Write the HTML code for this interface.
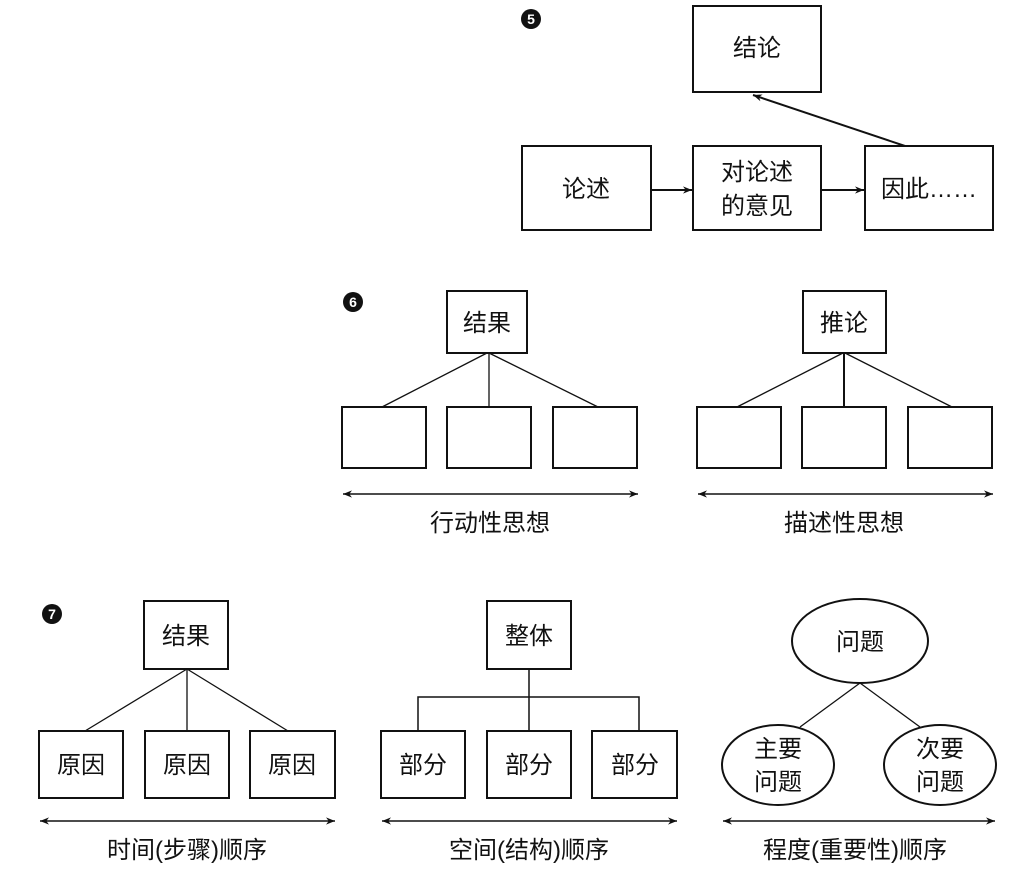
<!DOCTYPE html>
<html><head><meta charset="utf-8"><style>
html,body{margin:0;padding:0;background:#fff}
svg text{font-family:"Liberation Sans","Noto Sans CJK SC",sans-serif;fill:#111}
</style></head><body>
<svg width="1018" height="868" viewBox="0 0 1018 868" xmlns="http://www.w3.org/2000/svg">
<defs>
<marker id="a" viewBox="0 0 10 10" refX="10" refY="5" markerWidth="9" markerHeight="9" orient="auto-start-reverse" markerUnits="userSpaceOnUse"><path d="M0,1 L10,5 L0,9 L3,5 z" fill="#111"/></marker>
</defs>
<g fill="none" stroke="#111" stroke-width="2">
<!-- 5 -->
<rect x="693" y="6" width="128" height="86"/>
<rect x="522" y="146" width="129" height="84"/>
<rect x="693" y="146" width="128" height="84"/>
<rect x="865" y="146" width="128" height="84"/>
<line x1="651" y1="190" x2="692" y2="190" marker-end="url(#a)"/>
<line x1="821" y1="190" x2="864" y2="190" marker-end="url(#a)"/>
<line x1="905" y1="146" x2="753" y2="95" marker-end="url(#a)"/>
<!-- 6 -->
<rect x="447" y="291" width="80" height="62"/>
<rect x="342" y="407" width="84" height="61"/>
<rect x="447" y="407" width="84" height="61"/>
<rect x="553" y="407" width="84" height="61"/>
<line x1="487" y1="353" x2="382" y2="407" stroke-width="1.3"/>
<line x1="489" y1="353" x2="489" y2="407" stroke-width="1.3"/>
<line x1="489" y1="353" x2="598" y2="407" stroke-width="1.3"/>
<line x1="343" y1="494" x2="638" y2="494" marker-start="url(#a)" marker-end="url(#a)" stroke-width="1.5"/>
<rect x="803" y="291" width="83" height="62"/>
<rect x="697" y="407" width="84" height="61"/>
<rect x="802" y="407" width="84" height="61"/>
<rect x="908" y="407" width="84" height="61"/>
<line x1="843" y1="353" x2="737" y2="407" stroke-width="1.3"/>
<line x1="844" y1="353" x2="844" y2="407"/>
<line x1="845" y1="353" x2="952" y2="407" stroke-width="1.3"/>
<line x1="698" y1="494" x2="993" y2="494" marker-start="url(#a)" marker-end="url(#a)" stroke-width="1.5"/>
<!-- 7 -->
<rect x="144" y="601" width="84" height="68"/>
<rect x="39" y="731" width="84" height="67"/>
<rect x="145" y="731" width="84" height="67"/>
<rect x="250" y="731" width="85" height="67"/>
<line x1="187" y1="669" x2="85" y2="731" stroke-width="1.3"/>
<line x1="187" y1="669" x2="187" y2="731" stroke-width="1.3"/>
<line x1="187" y1="669" x2="288" y2="731" stroke-width="1.3"/>
<line x1="40" y1="821" x2="335" y2="821" marker-start="url(#a)" marker-end="url(#a)" stroke-width="1.5"/>
<rect x="487" y="601" width="84" height="68"/>
<rect x="381" y="731" width="84" height="67"/>
<rect x="487" y="731" width="84" height="67"/>
<rect x="592" y="731" width="85" height="67"/>
<path d="M529,669 V697 M418,731 V697 H639 V731 M529,697 V731" stroke-width="1.5"/>
<line x1="382" y1="821" x2="677" y2="821" marker-start="url(#a)" marker-end="url(#a)" stroke-width="1.5"/>
<ellipse cx="860" cy="641" rx="68" ry="42"/>
<ellipse cx="778" cy="765" rx="56" ry="40"/>
<ellipse cx="940" cy="765" rx="56" ry="40"/>
<line x1="860" y1="683" x2="800" y2="727" stroke-width="1.3"/>
<line x1="860" y1="683" x2="920" y2="727" stroke-width="1.3"/>
<line x1="723" y1="821" x2="995" y2="821" marker-start="url(#a)" marker-end="url(#a)" stroke-width="1.5"/>
</g>
<g fill="#111">
<circle cx="531" cy="19" r="10"/><circle cx="353" cy="302" r="10"/><circle cx="52" cy="614" r="10"/>
</g>
<g font-size="14" font-weight="bold" text-anchor="middle" style="fill:#fff">
<text x="531" y="24" style="fill:#fff">5</text><text x="353" y="307" style="fill:#fff">6</text><text x="52" y="619" style="fill:#fff">7</text>
</g>
<g font-size="24" text-anchor="middle">
<text x="757" y="56">结论</text>
<text x="586" y="197">论述</text>
<text x="757" y="180">对论述</text>
<text x="757" y="214">的意见</text>
<text x="929" y="197">因此……</text>
<text x="487" y="331">结果</text>
<text x="844" y="331">推论</text>
<text x="490" y="531">行动性思想</text>
<text x="844" y="531">描述性思想</text>
<text x="186" y="644">结果</text>
<text x="81" y="773">原因</text>
<text x="187" y="773">原因</text>
<text x="292" y="773">原因</text>
<text x="187" y="858">时间(步骤)顺序</text>
<text x="529" y="644">整体</text>
<text x="423" y="773">部分</text>
<text x="529" y="773">部分</text>
<text x="635" y="773">部分</text>
<text x="529" y="858">空间(结构)顺序</text>
<text x="860" y="650">问题</text>
<text x="778" y="757">主要</text>
<text x="778" y="790">问题</text>
<text x="940" y="757">次要</text>
<text x="940" y="790">问题</text>
<text x="855" y="858">程度(重要性)顺序</text>
</g>
</svg>
</body></html>
